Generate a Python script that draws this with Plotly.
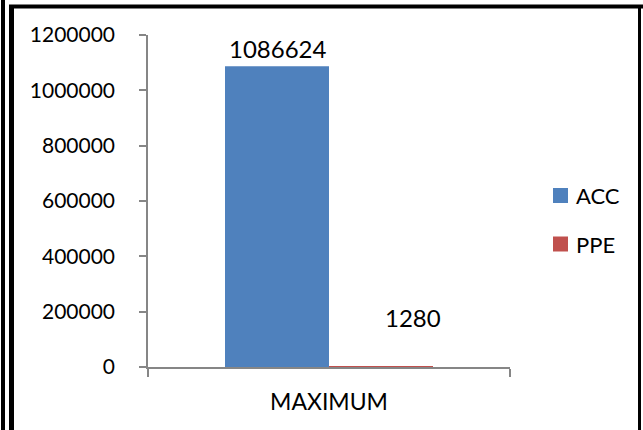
import plotly.graph_objects as go

# Data
categories = ["MAXIMUM"]
series_names = ["ACC", "PPE"]
acc_values = [1086624]
ppe_values = [1280]
y_ticks = [0, 200000, 400000, 600000, 800000, 1000000, 1200000]

colors = {"ACC": "#4F81BD", "PPE": "#C0504D"}
FONT = "Lato, Calibri, 'Open Sans', sans-serif"

W, H = 643, 430
L, R, T, B = 148, 510, 35, 367  # plot area in pixels


def px(x):
    return (x - L) / (R - L)


def py(y):
    return (B - y) / (B - T)


fig = go.Figure()
fig.add_trace(go.Bar(name="ACC", x=categories, y=acc_values,
                     marker=dict(color=colors["ACC"], line=dict(width=0))))
fig.add_trace(go.Bar(name="PPE", x=categories, y=ppe_values,
                     marker=dict(color=colors["PPE"], line=dict(width=0))))

# Value labels
fig.add_annotation(x=categories[0], y=acc_values[0], text=str(acc_values[0]),
                   showarrow=False, yanchor="bottom", xshift=-51, yshift=1,
                   font=dict(family=FONT, size=24, color="black"))
fig.add_annotation(x=categories[0], y=ppe_values[0], text=str(ppe_values[0]),
                   showarrow=False, yanchor="bottom", xshift=84, yshift=33,
                   font=dict(family=FONT, size=24, color="black"))

# Legend drawn as swatches with text, to the right of the plot
legend_rows = [("ACC", 195.5), ("PPE", 244)]
for name, cy in legend_rows:
    fig.add_shape(type="rect", xref="paper", yref="paper",
                  x0=px(553), x1=px(568), y0=py(cy - 7.5), y1=py(cy + 7.5),
                  fillcolor=colors[name], line=dict(width=0))
    fig.add_annotation(xref="paper", yref="paper", x=px(574), y=py(cy),
                       text=name, showarrow=False, xanchor="left",
                       yanchor="middle",
                       font=dict(family=FONT, size=22, color="black"))

# Frame lines around the chart
frame = [
    (3, -5, 3, 440, 4),
    (11.5, 5, 11.5, 440, 5),
    (9, 6.5, 643, 6.5, 4),
    (639.5, 5, 639.5, 440, 3),
]
for x0, y0, x1, y1, w in frame:
    fig.add_shape(type="line", xref="paper", yref="paper",
                  x0=px(x0), y0=py(y0), x1=px(x1), y1=py(y1),
                  line=dict(color="black", width=w), layer="above")

fig.update_layout(
    width=W, height=H,
    margin=dict(l=L, r=W - R, t=T, b=H - B, pad=0, autoexpand=False),
    paper_bgcolor="white", plot_bgcolor="white",
    barmode="group", bargap=0.4254, bargroupgap=0,
    font=dict(family=FONT, color="black"),
    showlegend=False,
    xaxis=dict(type="category", range=[-0.5, 0.5], showline=True,
               linecolor="#868686", linewidth=2, ticks="outside",
               tickson="boundaries", ticklen=8, tickcolor="#868686",
               tickwidth=1.5, tickfont=dict(family=FONT, size=23),
               ticklabelstandoff=13, showgrid=False, zeroline=False,
               fixedrange=True, layer="above traces"),
    yaxis=dict(range=[0, 1200000], tickvals=y_ticks,
               ticktext=[str(v) for v in y_ticks], showline=True,
               linecolor="#868686", linewidth=1.5, ticks="outside",
               ticklen=7, tickcolor="#868686", tickwidth=1.5,
               tickfont=dict(family=FONT, size=21), ticklabelstandoff=20,
               showgrid=False, zeroline=False, fixedrange=True,
               layer="above traces"),
)

fig.write_html("out.html")
